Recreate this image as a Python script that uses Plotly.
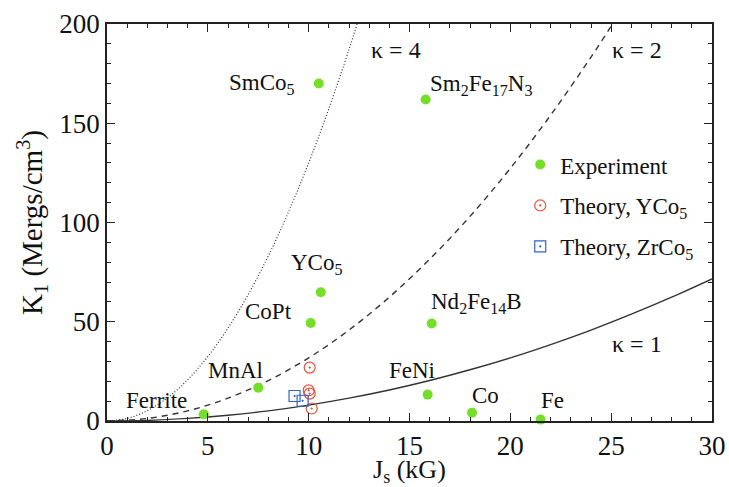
import plotly.graph_objects as go

# ---- data ----
materials = ["Ferrite", "MnAl", "CoPt", "YCo<sub>5</sub>", "SmCo<sub>5</sub>",
             "Sm<sub>2</sub>Fe<sub>17</sub>N<sub>3</sub>", "Nd<sub>2</sub>Fe<sub>14</sub>B",
             "FeNi", "Co", "Fe"]
exp_js = [4.8, 7.5, 10.1, 10.6, 10.5, 15.8, 16.1, 15.9, 18.1, 21.5]
exp_k1 = [3.4, 16.8, 49.4, 64.9, 170.0, 162.0, 49.1, 13.3, 4.2, 0.7]

yco5_js = [10.05, 10.0, 10.05, 10.15]
yco5_k1 = [26.9, 15.4, 13.8, 6.3]

zrco5_js = [9.3, 9.7]
zrco5_k1 = [12.6, 10.2]

# hardness-parameter curves
k1_curve_js = [0, 2, 4, 6, 8, 10, 12, 14, 16, 18, 20, 22, 24, 26, 28, 30]
k1_curve_k = [0, 0.3, 1.3, 2.9, 5.1, 8.0, 11.5, 15.6, 20.4, 25.8, 31.8, 38.5, 45.8, 53.8, 62.4, 71.6]

k2_curve_js = [0, 2, 4, 6, 8, 10, 12, 14, 16, 18, 20, 22, 24, 25.07]
k2_curve_k = [0, 1.3, 5.1, 11.5, 20.4, 31.8, 45.8, 62.4, 81.5, 103.1, 127.3, 154.1, 183.3, 200]

k4_curve_js = [0, 1, 2, 3, 4, 5, 6, 7, 8, 9, 10, 11, 12, 12.4]
k4_curve_k = [0, 1.3, 5.2, 11.7, 20.8, 32.5, 46.8, 63.7, 83.2, 105.3, 130, 157.3, 187.2, 200]

kappa_labels = ["κ = 1", "κ = 2", "κ = 4"]

# ---- style ----
FONT = "'Liberation Serif', 'Times New Roman', 'DejaVu Serif', serif"
GREEN = "#74df27"
RED = "#e8503a"
BLUE = "#2f62cc"
LINE = "#333333"

fig = go.Figure()

fig.add_trace(go.Scatter(x=k1_curve_js, y=k1_curve_k, mode="lines", line_shape="spline",
                         line=dict(color=LINE, width=1.4), showlegend=False, hoverinfo="skip"))
fig.add_trace(go.Scatter(x=k2_curve_js, y=k2_curve_k, mode="lines", line_shape="spline",
                         line=dict(color=LINE, width=1.4, dash="6px,5px"), showlegend=False, hoverinfo="skip"))
fig.add_trace(go.Scatter(x=k4_curve_js, y=k4_curve_k, mode="lines", line_shape="spline",
                         line=dict(color=LINE, width=1.2, dash="1px,2px"), showlegend=False, hoverinfo="skip"))

fig.add_trace(go.Scatter(x=exp_js, y=exp_k1, mode="markers", name="Experiment",
                         legendgroup="a", cliponaxis=False,
                         marker=dict(color=GREEN, size=10, symbol="circle", line=dict(width=0))))
fig.add_trace(go.Scatter(x=yco5_js, y=yco5_k1, mode="markers", name="Theory, YCo<sub>5</sub>",
                         legendgroup="b", cliponaxis=False,
                         marker=dict(color=RED, size=11, symbol="circle-open-dot", line=dict(width=1.2))))
fig.add_trace(go.Scatter(x=zrco5_js, y=zrco5_k1, mode="markers", name="Theory, ZrCo<sub>5</sub>",
                         legendgroup="c", cliponaxis=False,
                         marker=dict(color=BLUE, size=11, symbol="square-open-dot", line=dict(width=1.2))))

# material labels: offsets (px) from their points
label_style = {
    "Ferrite": dict(xanchor="center", xshift=-47, yshift=14),
    "MnAl": dict(xanchor="center", xshift=-23, yshift=17),
    "CoPt": dict(xanchor="right", xshift=-17, yshift=11),
    "YCo<sub>5</sub>": dict(xanchor="center", xshift=-4, yshift=28),
    "SmCo<sub>5</sub>": dict(xanchor="right", xshift=-22, yshift=0),
    "Sm<sub>2</sub>Fe<sub>17</sub>N<sub>3</sub>": dict(xanchor="left", xshift=2, yshift=14),
    "Nd<sub>2</sub>Fe<sub>14</sub>B": dict(xanchor="left", xshift=-3, yshift=21),
    "FeNi": dict(xanchor="center", xshift=-16, yshift=24),
    "Co": dict(xanchor="center", xshift=13, yshift=17),
    "Fe": dict(xanchor="center", xshift=12, yshift=19),
}
for name, xv, yv in zip(materials, exp_js, exp_k1):
    st = label_style[name]
    fig.add_annotation(x=xv, y=yv, text=name, showarrow=False,
                       xanchor=st["xanchor"], yanchor="middle",
                       xshift=st["xshift"], yshift=st["yshift"],
                       font=dict(family=FONT, size=23, color="#111"))

kappa_pos = [(26.3, 38.7), (26.3, 187), (14.35, 187)]
for txt, (xv, yv) in zip(kappa_labels, kappa_pos):
    fig.add_annotation(x=xv, y=yv, text=txt, showarrow=False, xanchor="center", yanchor="middle",
                       font=dict(family=FONT, size=24, color="#111"))

# x-axis title as a paper-anchored annotation so it sits below the tick labels
fig.add_annotation(x=0.5, y=-0.125, xref="paper", yref="paper", text="J<sub>s</sub> (kG)",
                   showarrow=False, xanchor="center", yanchor="middle",
                   font=dict(family=FONT, size=26, color="#111"))

axis_common = dict(
    showline=True, linecolor="#222", linewidth=1.5, mirror="allticks",
    ticks="inside", ticklen=8, tickwidth=1.2, tickcolor="#222",
    showgrid=False, zeroline=False, automargin=False,
    tickfont=dict(family=FONT, size=27, color="#111"),
)

fig.update_xaxes(range=[0, 30], tickmode="linear", tick0=0, dtick=5,
                 minor=dict(dtick=1, ticks="inside", ticklen=4, tickcolor="#222", tickwidth=1),
                 **axis_common)
fig.update_yaxes(range=[0, 200], tickmode="linear", tick0=0, dtick=50,
                 minor=dict(dtick=10, ticks="inside", ticklen=4, tickcolor="#222", tickwidth=1),
                 title=dict(text="K<sub>1</sub> (Mergs/cm<sup>3</sup>)", font=dict(family=FONT, size=29, color="#111"), standoff=8),
                 **axis_common)

fig.update_layout(
    width=729, height=487,
    margin=dict(l=107, r=17, t=24, b=66, autoexpand=False),
    paper_bgcolor="white", plot_bgcolor="white",
    font=dict(family=FONT, color="#111"),
    legend=dict(x=0.683, y=0.70, xanchor="left", yanchor="top",
                font=dict(family=FONT, size=23, color="#111"),
                tracegroupgap=8, bgcolor="rgba(0,0,0,0)", borderwidth=0),
)

fig.write_html("out.html", config={"displayModeBar": False},
               post_script="document.body.style.margin='0';document.body.style.overflow='hidden';")
